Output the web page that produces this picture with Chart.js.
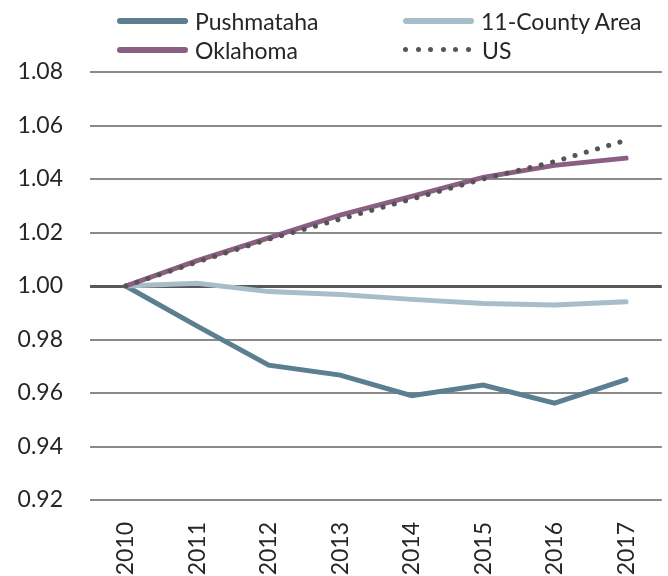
<!DOCTYPE html>
<html>
<head>
<meta charset="utf-8">
<script src="https://cdn.jsdelivr.net/npm/chart.js@4.4.0/dist/chart.umd.min.js"></script>
<style>
  body { margin: 0; background: #fff; }
  #wrap { position: relative; width: 668px; height: 576px; }
  #legend { position: absolute; left: 0; top: 0; width: 668px; height: 70px; font-family: Lato, sans-serif; font-size: 23px; color: #262626; }
  .item { position: absolute; height: 28px; line-height: 28px; white-space: nowrap; }
  .sw { position: absolute; top: 11px; height: 6px; border-radius: 3px; }
  .dots span { display: inline-block; width: 5px; height: 5px; border-radius: 50%; background: #555; margin-right: 7.5px; vertical-align: top; }
  .lbl { position: absolute; top: 0; }
</style>
</head>
<body>
<div id="wrap">
  <canvas id="line-canvas" width="668" height="576"></canvas>
  <div id="legend"></div>
</div>
<script>
var years = ['2010', '2011', '2012', '2013', '2014', '2015', '2016', '2017'];
var pushmataha = [1.000, 0.985, 0.9704, 0.9667, 0.9590, 0.9630, 0.9562, 0.9650];
var countyArea = [1.000, 1.001, 0.9979, 0.9968, 0.9950, 0.9935, 0.9929, 0.9941];
var oklahoma = [1.000, 1.0095, 1.0180, 1.0265, 1.0335, 1.0406, 1.0451, 1.0478];
var us = [1.000, 1.009, 1.0175, 1.0250, 1.0325, 1.0400, 1.0465, 1.0545];
var yTicks = [0.92, 0.94, 0.96, 0.98, 1.00, 1.02, 1.04, 1.06, 1.08];

var colPush = '#5b7e91';
var colCounty = '#a7bdc8';
var colOk = '#8b5f82';
var colUs = '#555555';

// legend, drawn as html so the 2x2 layout lines up
var legendItems = [
	{ name: 'Pushmataha', color: colPush, x: 117, y: 7 },
	{ name: '11-County Area', color: colCounty, x: 403, y: 7 },
	{ name: 'Oklahoma', color: colOk, x: 117, y: 36 },
	{ name: 'US', color: colUs, x: 403, y: 36, dotted: true }
];
var legend = document.getElementById('legend');
legendItems.forEach(function(it) {
	var d = document.createElement('div');
	d.className = 'item';
	d.style.left = it.x + 'px';
	d.style.top = it.y + 'px';
	var html;
	if (it.dotted) {
		html = '<div class="sw dots" style="top:11px;height:5px;width:66px">' +
			'<span></span><span></span><span></span><span></span><span></span><span></span></div>';
	} else {
		html = '<div class="sw" style="width:71px;background:' + it.color + '"></div>';
	}
	html += '<div class="lbl" style="left:' + (it.dotted ? 79 : 78) + 'px">' + it.name + '</div>';
	d.innerHTML = html;
	legend.appendChild(d);
});

var isOne = function(v) { return Math.abs(v - 1) < 1e-6; };

var canvas = document.querySelector('#line-canvas');
new Chart(canvas, {
	type: 'line',
	data: {
		labels: years,
		datasets: [
			{ label: 'US', data: us, borderColor: colUs, borderWidth: 5, borderDash: [0.1, 11.6], borderCapStyle: 'round', pointRadius: 0, tension: 0, order: 0 },
			{ label: 'Oklahoma', data: oklahoma, borderColor: colOk, borderWidth: 5, borderCapStyle: 'round', pointRadius: 0, tension: 0, order: 1 },
			{ label: '11-County Area', data: countyArea, borderColor: colCounty, borderWidth: 5, borderCapStyle: 'round', pointRadius: 0, tension: 0, order: 2 },
			{ label: 'Pushmataha', data: pushmataha, borderColor: colPush, borderWidth: 5, borderCapStyle: 'round', pointRadius: 0, tension: 0, order: 3 }
		]
	},
	options: {
		responsive: false,
		animation: false,
		layout: { padding: { top: 72, right: 5, left: 0, bottom: 0 } },
		plugins: { legend: { display: false }, tooltip: { enabled: false } },
		scales: {
			x: {
				offset: true,
				grid: { display: false },
				border: { display: false },
				ticks: {
					minRotation: 90, maxRotation: 90, padding: 14,
					color: '#262626', font: { family: 'Lato', size: 23 }
				},
				afterFit: function(s) { s.height = 76; }
			},
			y: {
				min: 0.92, max: 1.08,
				afterBuildTicks: function(s) { s.ticks = yTicks.map(function(v) { return { value: v }; }); },
				grid: {
					drawTicks: false,
					color: function(c) { return c.tick && isOne(c.tick.value) ? '#595959' : '#8a8a8a'; },
					lineWidth: function(c) { return c.tick && isOne(c.tick.value) ? 3 : 2; }
				},
				border: { display: false },
				ticks: {
					padding: 27,
					color: '#262626', font: { family: 'Lato', size: 23 },
					callback: function(v) { return Number(v).toFixed(2); }
				},
				afterFit: function(s) { s.width = 90; }
			}
		}
	}
});
</script>
</body>
</html>
